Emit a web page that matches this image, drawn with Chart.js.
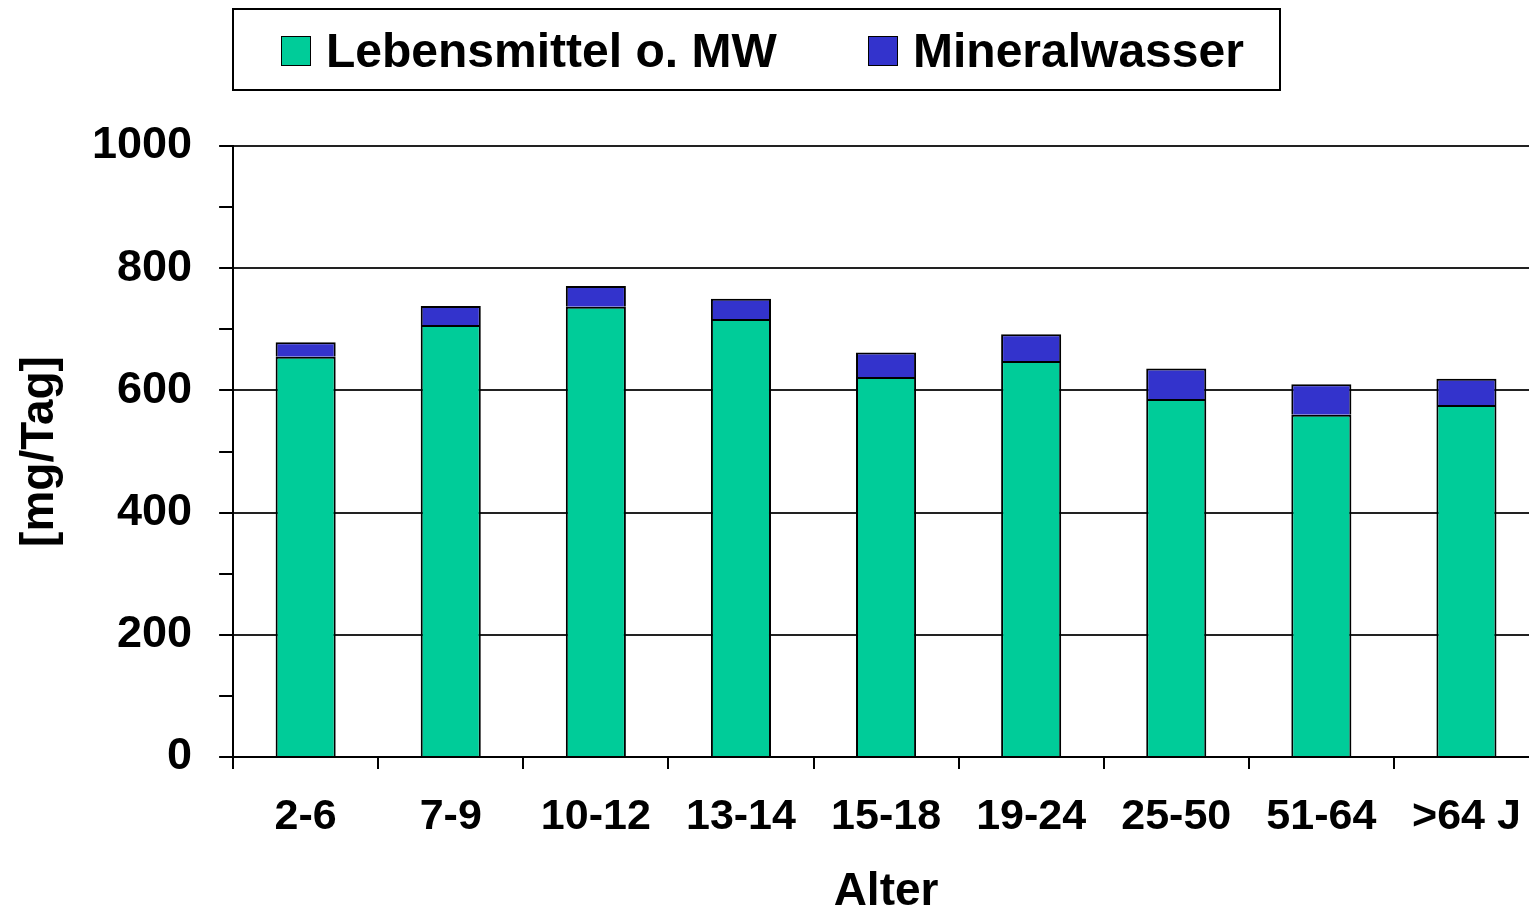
<!DOCTYPE html>
<html>
<head>
<meta charset="utf-8">
<script src="https://cdn.jsdelivr.net/npm/chart.js@4/dist/chart.umd.min.js"></script>
<style>
    body { margin: 0; overflow: hidden; background: #fff; font-family: 'Liberation Sans', Arial, sans-serif; }
    #wrap { position: relative; width: 1529px; height: 913px; overflow: hidden; }
    #chart { position: absolute; left: 0; top: 0; }
    #legende { position: absolute; left: 232px; top: 8px; width: 1049px; height: 83px; border: 2px solid #000; box-sizing: border-box; }
    .box { position: absolute; top: 26px; width: 30px; height: 30px; border: 1.5px solid #000; box-sizing: border-box; }
    .txt { position: absolute; top: 17px; font-size: 48px; line-height: 48px; font-weight: bold; white-space: nowrap; }
</style>
</head>
<body>
<div id="wrap">
    <canvas id="chart" width="1545" height="913"></canvas>
    <div id="legende"></div>
</div>
<script>
const kategorien = ['2-6', '7-9', '10-12', '13-14', '15-18', '19-24', '25-50', '51-64', '>64 J'];
const lebensmittel = [655, 707, 737, 717, 622, 648, 586, 560, 576];
const mineralwasser = [24, 31, 34, 33, 40, 44, 50, 50, 43];
const serienNamen = ['Lebensmittel o. MW', 'Mineralwasser'];
const farben = ['#00CC99', '#3333CC'];

const schrift = "'Liberation Sans', Arial, sans-serif";

// Legende im Rahmen (HTML)
const legende = document.getElementById('legende');
const legPos = [[47, 92], [634, 679]];
serienNamen.forEach((name, i) => {
    const b = document.createElement('div');
    b.className = 'box';
    b.style.left = legPos[i][0] + 'px';
    b.style.background = farben[i];
    const t = document.createElement('div');
    t.className = 'txt';
    t.style.left = legPos[i][1] + 'px';
    t.innerText = name;
    legende.appendChild(b);
    legende.appendChild(t);
});

new Chart(document.getElementById('chart'), {
    type: 'bar',
    data: {
        labels: kategorien,
        datasets: [
            { label: serienNamen[0], data: lebensmittel, backgroundColor: farben[0], borderColor: '#000', borderWidth: 2 },
            { label: serienNamen[1], data: mineralwasser, backgroundColor: farben[1], borderColor: '#000', borderWidth: 2 }
        ]
    },
    options: {
        responsive: false,
        animation: false,
        layout: { padding: { top: 146, left: 0, right: 6, bottom: 0 } },
        datasets: { bar: { categoryPercentage: 1, barPercentage: 0.414 } },
        plugins: { legend: { display: false }, tooltip: { enabled: false } },
        scales: {
            x: {
                stacked: true,
                border: { display: true, color: '#000', width: 2 },
                grid: { drawOnChartArea: false, color: '#000', tickColor: '#000', tickLength: 12, lineWidth: 2 },
                ticks: { color: '#000', padding: 22, maxRotation: 0, autoSkip: false, font: { family: schrift, size: 43, weight: 'bold' } },
                title: { display: true, text: 'Alter', color: '#000', padding: { top: 7, bottom: 0 }, font: { family: schrift, size: 46, weight: 'bold', lineHeight: 0.9 } }
            },
            y: {
                stacked: true,
                min: 0,
                max: 1000,
                border: { display: true, color: '#000', width: 2 },
                grid: {
                    color: ctx => (ctx.tick && ctx.tick.value % 200 === 0) ? '#222' : 'rgba(0,0,0,0)',
                    tickColor: '#000',
                    tickLength: 14,
                    lineWidth: 2
                },
                ticks: {
                    stepSize: 100,
                    color: '#000',
                    padding: 27,
                    font: { family: schrift, size: 45, weight: 'bold' },
                    callback: v => v % 200 === 0 ? v : ''
                },
                title: { display: true, text: '[mg/Tag]', color: '#000', padding: { top: 17, bottom: 2 }, font: { family: schrift, size: 46, weight: 'bold', lineHeight: 1 } }
            }
        }
    }
});
</script>
</body>
</html>
